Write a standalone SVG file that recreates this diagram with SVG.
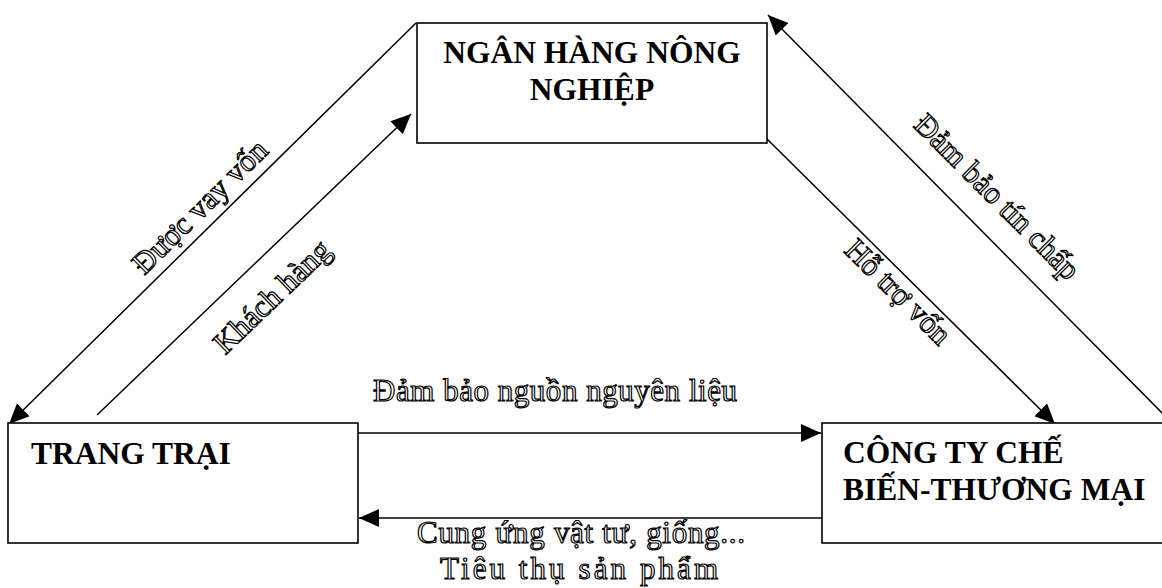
<svg xmlns="http://www.w3.org/2000/svg" width="1162" height="588" viewBox="0 0 1162 588">
  <style>
    .box { fill: #ffffff; stroke: #000000; stroke-width: 1.6; }
    .node-text { font-family: "Liberation Serif", "Times New Roman", serif; font-weight: bold; font-size: 31.5px; fill: #000000; }
    .conn { stroke: #000000; stroke-width: 1.5; fill: none; marker-end: url(#arrow); }
    .label { font-family: "Liberation Serif", "Times New Roman", serif; font-size: 31px; fill: #ffffff; stroke: #000000; stroke-width: 1.2; }
  </style>
  <defs>
    <marker id="arrow" markerUnits="userSpaceOnUse" markerWidth="20" markerHeight="20" viewBox="0 0 20 20" refX="20" refY="10" orient="auto">
      <path d="M0,1 L20,10 L0,19 Z" fill="#000000"/>
    </marker>
  </defs>
  <rect width="1162" height="588" fill="#ffffff"/>

  <g id="connectors">
    <line class="conn" x1="416" y1="23" x2="9" y2="424"/>
    <line class="conn" x1="97" y1="415" x2="411" y2="114"/>
    <line class="conn" x1="1170" y1="421" x2="768" y2="15"/>
    <line class="conn" x1="765" y1="137" x2="1055" y2="424"/>
    <line class="conn" x1="358" y1="433" x2="821" y2="433"/>
    <line class="conn" x1="822" y1="518" x2="359" y2="518"/>
  </g>

  <g id="node-ngan-hang">
    <rect class="box" x="417" y="23" width="350" height="120"/>
    <text class="node-text" x="592" y="63" text-anchor="middle">NGÂN HÀNG NÔNG</text>
    <text class="node-text" x="592" y="100" text-anchor="middle">NGHIỆP</text>
  </g>

  <g id="node-trang-trai">
    <rect class="box" x="8" y="423" width="350" height="120"/>
    <text class="node-text" x="31" y="464">TRANG TRẠI</text>
  </g>

  <g id="node-cong-ty">
    <rect class="box" x="822" y="423" width="345" height="120"/>
    <text class="node-text" x="843" y="463">CÔNG TY CHẾ</text>
    <text class="node-text" x="843" y="500">BIẾN-THƯƠNG MẠI</text>
  </g>

  <g id="labels">
    <text class="label" transform="translate(207,214) rotate(-44.6)" text-anchor="middle">Được vay vốn</text>
    <text class="label" transform="translate(279,304) rotate(-43.8)" text-anchor="middle">Khách hàng</text>
    <text class="label" transform="translate(990,204) rotate(45.1)" text-anchor="middle">Đảm bảo tín chấp</text>
    <text class="label" transform="translate(891,299) rotate(44.7)" text-anchor="middle">Hỗ trợ vốn</text>
    <text class="label" x="373" y="401" textLength="364" lengthAdjust="spacing">Đảm bảo nguồn nguyên liệu</text>
    <text class="label" x="417" y="543" textLength="328" lengthAdjust="spacing">Cung ứng vật tư, giống...</text>
    <text class="label" x="440" y="579" textLength="278" lengthAdjust="spacing">Tiêu thụ sản phẩm</text>
  </g>
</svg>
